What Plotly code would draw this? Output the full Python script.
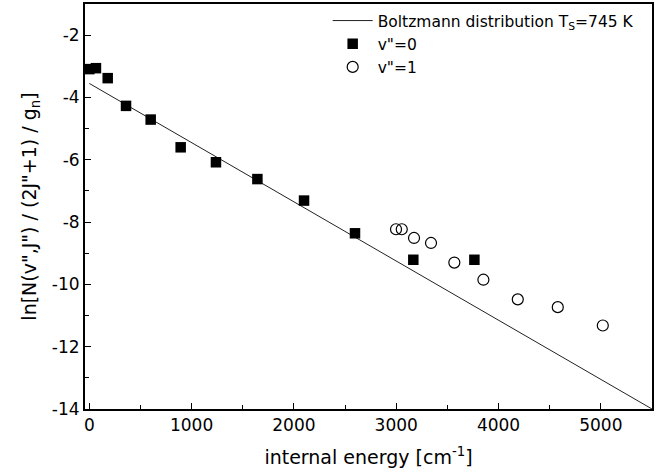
import plotly.graph_objects as go

# Boltzmann fit line endpoints
fit_x = [0, 5500]
fit_y = [-3.55, -14.0]

# v''=0 data
v0_x = [0, 65, 180, 359, 600, 893, 1238, 1643, 2099, 2597, 3167, 3764]
v0_y = [-3.09, -3.06, -3.38, -4.27, -4.71, -5.60, -6.08, -6.62, -7.31, -8.36, -9.21, -9.21]

# v''=1 data
v1_x = [2998, 3054, 3174, 3340, 3568, 3852, 4188, 4579, 5019]
v1_y = [-8.23, -8.23, -8.51, -8.67, -9.30, -9.85, -10.48, -10.73, -11.32]

x_tick_vals = [0, 1000, 2000, 3000, 4000, 5000]
x_tick_text = ["0", "1000", "2000", "3000", "4000", "5000"]
y_tick_vals = [-2, -4, -6, -8, -10, -12, -14]
y_tick_text = ["-2", "-4", "-6", "-8", "-10", "-12", "-14"]

FONT = "DejaVu Sans"

fig = go.Figure()
fig.add_trace(go.Scatter(x=fit_x, y=fit_y, mode="lines",
                         line=dict(color="#222222", width=1),
                         name="Boltzmann distribution T<sub>S</sub>=745 K"))
fig.add_trace(go.Scatter(x=v0_x, y=v0_y, mode="markers",
                         marker=dict(symbol="square", size=10.5, color="black",
                                     line=dict(width=0)),
                         name="v\"=0"))
fig.add_trace(go.Scatter(x=v1_x, y=v1_y, mode="markers",
                         marker=dict(symbol="circle-open", size=11, color="black",
                                     line=dict(width=1.2)),
                         name="v\"=1"))

axis_common = dict(showgrid=False, zeroline=False, showline=True, linecolor="black",
                   linewidth=2, mirror=True, ticks="inside", ticklen=6, tickwidth=1.2,
                   tickcolor="black", automargin=False,
                   tickfont=dict(family=FONT, size=17, color="black"))

fig.update_xaxes(range=[-42, 5500], tickvals=x_tick_vals, ticktext=x_tick_text,
                 minor=dict(dtick=500, tick0=0, ticks="inside", ticklen=4, tickwidth=1.2,
                            tickcolor="black"),
                 title=dict(text="internal energy [cm<sup>-1</sup>]",
                            font=dict(family=FONT, size=19, color="black"), standoff=16),
                 **axis_common)
fig.update_yaxes(range=[-14, -1], tickvals=y_tick_vals, ticktext=y_tick_text,
                 minor=dict(dtick=1, tick0=-1, ticks="inside", ticklen=4, tickwidth=1.2,
                            tickcolor="black"),
                 title=dict(text="ln[N(v\",J\") / (2J\"+1) / g<sub>n</sub>]",
                            font=dict(family=FONT, size=19, color="black"), standoff=10),
                 **axis_common)

fig.update_layout(
    width=659, height=474,
    margin=dict(l=85, r=7, t=4, b=65, autoexpand=False),
    plot_bgcolor="white", paper_bgcolor="white",
    font=dict(family=FONT, color="black"),
    legend=dict(x=0.428, y=1.0, xanchor="left", yanchor="top",
                bgcolor="rgba(0,0,0,0)", borderwidth=0,
                font=dict(family=FONT, size=15.5, color="black"),
                tracegroupgap=0, itemwidth=40),
)

fig.write_html("out.html",
               config={"displayModeBar": False},
               post_script="document.body.style.margin='0';document.body.style.overflow='hidden';")
